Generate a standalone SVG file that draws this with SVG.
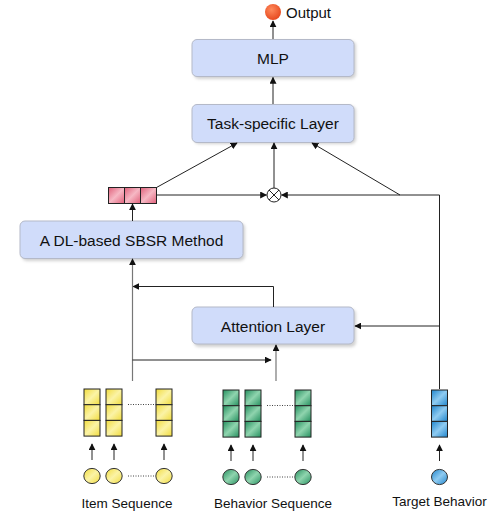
<svg xmlns="http://www.w3.org/2000/svg" width="495" height="514" viewBox="0 0 495 514">
<style>
  text { font-family: "Liberation Sans", Arial, sans-serif; fill: #111; }
  .box { fill: #d0dcfa; stroke: #b4b9c8; stroke-width: 1; }
  .shadow { fill: #9a9a9a; opacity: 0.45; }
  .bl { font-size: 15.5px; text-anchor: middle; }
  .lab { font-size: 13.5px; text-anchor: middle; }
  .ln { fill: none; stroke: #222; stroke-width: 1; marker-end: url(#ah); }
  .lg { fill: none; stroke: #777; stroke-width: 1.2; }
  .cell { stroke: #222; stroke-width: 1; }
  .y { fill: url(#gy); }
  .g { fill: url(#gg); }
  .b { fill: url(#gb); }
  .r { fill: url(#gr); }
  .dot { stroke: #444; stroke-width: 1; stroke-dasharray: 1 1.5; }
</style>
<defs>
  <marker id="ah" viewBox="0 0 10 10" refX="9" refY="5" markerWidth="7" markerHeight="7" orient="auto" markerUnits="userSpaceOnUse">
    <path d="M0,0 L10,5 L0,10 z" fill="#111"/>
  </marker>
  <filter id="blur" x="-10%" y="-20%" width="120%" height="140%"><feGaussianBlur stdDeviation="1.5"/></filter>
  <linearGradient id="gy" x1="0" y1="0" x2="1" y2="1"><stop offset="0" stop-color="#f1dc3e"/><stop offset="0.5" stop-color="#fbf3a6"/><stop offset="1" stop-color="#f1dc3e"/></linearGradient>
  <linearGradient id="gg" x1="0" y1="0" x2="1" y2="1"><stop offset="0" stop-color="#25905f"/><stop offset="0.5" stop-color="#8fd4ae"/><stop offset="1" stop-color="#25905f"/></linearGradient>
  <linearGradient id="gb" x1="0" y1="0" x2="1" y2="1"><stop offset="0" stop-color="#1f85cc"/><stop offset="0.5" stop-color="#8fcbf1"/><stop offset="1" stop-color="#1f85cc"/></linearGradient>
  <linearGradient id="gr" x1="0" y1="0" x2="1" y2="1"><stop offset="0" stop-color="#e0607a"/><stop offset="0.5" stop-color="#f6b8c4"/><stop offset="1" stop-color="#e0607a"/></linearGradient>
  <radialGradient id="go" cx="0.4" cy="0.35" r="0.7"><stop offset="0" stop-color="#ff8a5c"/><stop offset="1" stop-color="#e5461c"/></radialGradient>
</defs>

<g id="output">
  <circle cx="273" cy="12" r="8" fill="url(#go)"/>
  <text x="286" y="17.5" style="font-size:15px">Output</text>
</g>

<g id="mlp">
  <rect class="shadow" x="194" y="41" width="162" height="38" rx="5" filter="url(#blur)"/>
  <rect class="box" x="192" y="39.5" width="162" height="37" rx="5"/>
  <text class="bl" x="273" y="64">MLP</text>
</g>

<g id="task">
  <rect class="shadow" x="194" y="106" width="162" height="38" rx="5" filter="url(#blur)"/>
  <rect class="box" x="192" y="104.5" width="162" height="38" rx="5"/>
  <text class="bl" x="273" y="129">Task-specific Layer</text>
</g>

<g id="dl">
  <rect class="shadow" x="22" y="223" width="223" height="38" rx="5" filter="url(#blur)"/>
  <rect class="box" x="20" y="221" width="223" height="37.5" rx="5"/>
  <text class="bl" x="131.5" y="246">A DL-based SBSR Method</text>
</g>

<g id="attention">
  <rect class="shadow" x="194" y="309" width="162" height="38" rx="5" filter="url(#blur)"/>
  <rect class="box" x="192" y="307" width="162" height="37" rx="5"/>
  <text class="bl" x="273" y="332">Attention Layer</text>
</g>

<g id="vec-red">
  <rect class="cell r" x="108.5" y="187.5" width="16" height="16"/>
  <rect class="cell r" x="124.5" y="187.5" width="16" height="16"/>
  <rect class="cell r" x="140.5" y="187.5" width="16" height="16"/>
</g>

<g id="otimes">
  <circle cx="274" cy="195" r="7" fill="#fff" stroke="#222" stroke-width="1"/>
  <path d="M269,190 L279,200 M279,190 L269,200" stroke="#222" stroke-width="1"/>
</g>

<g id="connectors">
  <path class="ln" d="M273,39 L273,21"/>
  <path class="ln" d="M273,104 L273,77.5"/>
  <path class="ln" d="M156.5,187.5 L237,143"/>
  <path class="ln" d="M156.5,195 L266.5,195"/>
  <path class="ln" d="M274,188 L274,143"/>
  <path class="ln" d="M439.5,389 L439.5,195 L281.5,195"/>
  <path class="ln" d="M400,195 L312,143"/>
  <path class="ln" d="M439.5,326 L355,326"/>
  <path class="ln" d="M273.5,307 L273.5,286.5 L133,286.5"/>
  <path class="lg" d="M132.5,381 L132.5,262"/>
  <path class="ln" d="M132.5,264 L132.5,259"/>
  <path class="ln" d="M132.5,360 L271,360"/>
  <path class="lg" d="M276,381 L276,348"/>
  <path class="ln" d="M276,350 L276,345"/>
  <path class="ln" d="M132.5,221 L132.5,204"/>
  <path class="ln" d="M92,460 L92,444"/>
  <path class="ln" d="M114,460 L114,444"/>
  <path class="ln" d="M164,460 L164,444"/>
  <path class="ln" d="M231,461 L231,445"/>
  <path class="ln" d="M253,461 L253,445"/>
  <path class="ln" d="M303,461 L303,445"/>
  <path class="ln" d="M439.5,461 L439.5,445"/>
</g>

<g id="item-seq">
  <rect class="cell y" x="84" y="389" width="16" height="15.7"/>
  <rect class="cell y" x="84" y="404.7" width="16" height="15.7"/>
  <rect class="cell y" x="84" y="420.4" width="16" height="15.7"/>
  <rect class="cell y" x="106" y="389" width="16" height="15.7"/>
  <rect class="cell y" x="106" y="404.7" width="16" height="15.7"/>
  <rect class="cell y" x="106" y="420.4" width="16" height="15.7"/>
  <rect class="cell y" x="156" y="389" width="16" height="15.7"/>
  <rect class="cell y" x="156" y="404.7" width="16" height="15.7"/>
  <rect class="cell y" x="156" y="420.4" width="16" height="15.7"/>
  <line class="dot" x1="128" y1="404.5" x2="154" y2="404.5"/>
  <ellipse cx="92" cy="476" rx="8.2" ry="7.6" fill="url(#gy)" stroke="#333"/>
  <ellipse cx="114" cy="476" rx="8.2" ry="7.6" fill="url(#gy)" stroke="#333"/>
  <ellipse cx="164" cy="476" rx="8.2" ry="7.6" fill="url(#gy)" stroke="#333"/>
  <line class="dot" x1="128" y1="476" x2="154" y2="476"/>
  <text class="lab" x="127" y="507.5">Item Sequence</text>
</g>

<g id="behavior-seq">
  <rect class="cell g" x="223" y="390" width="16" height="15.7"/>
  <rect class="cell g" x="223" y="405.7" width="16" height="15.7"/>
  <rect class="cell g" x="223" y="421.4" width="16" height="15.7"/>
  <rect class="cell g" x="245" y="390" width="16" height="15.7"/>
  <rect class="cell g" x="245" y="405.7" width="16" height="15.7"/>
  <rect class="cell g" x="245" y="421.4" width="16" height="15.7"/>
  <rect class="cell g" x="295" y="390" width="16" height="15.7"/>
  <rect class="cell g" x="295" y="405.7" width="16" height="15.7"/>
  <rect class="cell g" x="295" y="421.4" width="16" height="15.7"/>
  <line class="dot" x1="267" y1="405.5" x2="293" y2="405.5"/>
  <ellipse cx="231" cy="477" rx="8.2" ry="7.6" fill="url(#gg)" stroke="#333"/>
  <ellipse cx="253" cy="477" rx="8.2" ry="7.6" fill="url(#gg)" stroke="#333"/>
  <ellipse cx="303" cy="477" rx="8.2" ry="7.6" fill="url(#gg)" stroke="#333"/>
  <line class="dot" x1="267" y1="477" x2="293" y2="477"/>
  <text class="lab" x="273" y="507.5">Behavior Sequence</text>
</g>

<g id="target">
  <rect class="cell b" x="431.5" y="390" width="16" height="15.7"/>
  <rect class="cell b" x="431.5" y="405.7" width="16" height="15.7"/>
  <rect class="cell b" x="431.5" y="421.4" width="16" height="15.7"/>
  <ellipse cx="439.5" cy="477" rx="8" ry="7.6" fill="url(#gb)" stroke="#333"/>
  <text class="lab" x="439.5" y="505.5">Target Behavior</text>
</g>
</svg>
